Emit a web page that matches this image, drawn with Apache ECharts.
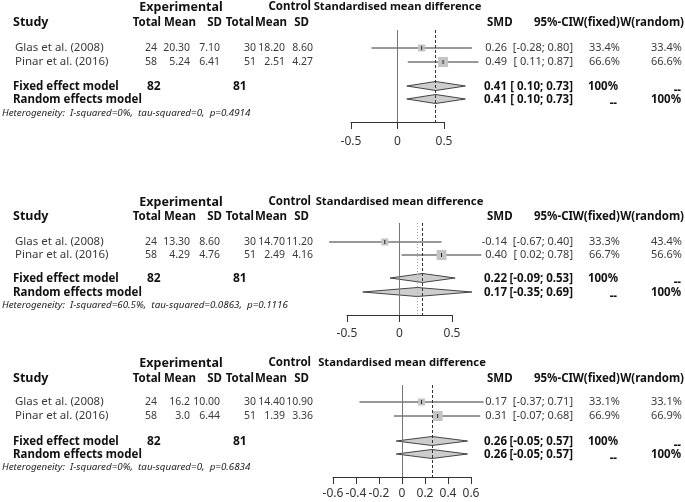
<!DOCTYPE html>
<html>
<head>
<meta charset="utf-8">
<script src="https://cdn.jsdelivr.net/npm/echarts@6/dist/echarts.min.js"></script>
<style>
  html, body { margin: 0; background: #fff; }
  #main { width: 685px; height: 502px; }
</style>
</head>
<body>
<div id="main"></div>
<script>
// studies (same in all three outcomes)
const studies = ['Glas et al. (2008)', 'Pinar et al. (2016)']
const expTotal = [24, 58]
const ctlTotal = [30, 51]

// outcome 1
const expMean1 = ['20.30', '5.24']
const expSD1 = ['7.10', '6.41']
const ctlMean1 = ['18.20', '2.51']
const ctlSD1 = ['8.60', '4.27']
const smd1 = [0.26, 0.49]
const lower1 = [-0.28, 0.11]
const upper1 = [0.80, 0.87]
const wFixed1 = [33.4, 66.6]
const wRandom1 = [33.4, 66.6]
const fixed1 = [0.41, 0.10, 0.73]
const random1 = [0.41, 0.10, 0.73]
const het1 = 'Heterogeneity:  I-squared=0%,  tau-squared=0,  p=0.4914'

// outcome 2
const expMean2 = ['13.30', '4.29']
const expSD2 = ['8.60', '4.76']
const ctlMean2 = ['14.70', '2.49']
const ctlSD2 = ['11.20', '4.16']
const smd2 = [-0.14, 0.40]
const lower2 = [-0.67, 0.02]
const upper2 = [0.40, 0.78]
const wFixed2 = [33.3, 66.7]
const wRandom2 = [43.4, 56.6]
const fixed2 = [0.22, -0.09, 0.53]
const random2 = [0.17, -0.35, 0.69]
const het2 = 'Heterogeneity:  I-squared=60.5%,  tau-squared=0.0863,  p=0.1116'

// outcome 3
const expMean3 = ['16.2', '3.0']
const expSD3 = ['10.00', '6.44']
const ctlMean3 = ['14.40', '1.39']
const ctlSD3 = ['10.90', '3.36']
const smd3 = [0.17, 0.31]
const lower3 = [-0.37, -0.07]
const upper3 = [0.71, 0.68]
const wFixed3 = [33.1, 66.9]
const wRandom3 = [33.1, 66.9]
const fixed3 = [0.26, -0.05, 0.57]
const random3 = [0.26, -0.05, 0.57]
const het3 = 'Heterogeneity:  I-squared=0%,  tau-squared=0,  p=0.6834'

// axis ranges (tick labels)
const axisMin = [-0.5, -0.5, -0.6]
const axisMax = [0.5, 0.5, 0.6]
const axisStep = [0.5, 0.5, 0.2]

const panels = [
  { expMean: expMean1, expSD: expSD1, ctlMean: ctlMean1, ctlSD: ctlSD1, smd: smd1, lower: lower1, upper: upper1,
    wFixed: wFixed1, wRandom: wRandom1, fixed: fixed1, random: random1, het: het1 },
  { expMean: expMean2, expSD: expSD2, ctlMean: ctlMean2, ctlSD: ctlSD2, smd: smd2, lower: lower2, upper: upper2,
    wFixed: wFixed2, wRandom: wRandom2, fixed: fixed2, random: random2, het: het2 },
  { expMean: expMean3, expSD: expSD3, ctlMean: ctlMean3, ctlSD: ctlSD3, smd: smd3, lower: lower3, upper: upper3,
    wFixed: wFixed3, wRandom: wRandom3, fixed: fixed3, random: random3, het: het3 }
]

// page layout (pixels)
const layout = [
  { top: 7, head: 22, rows: [48, 62], fixed: 87, random: 100, het: 113, lineTop: 30, axis: 122, left: 351, width: 93, margin: 14 },
  { top: 202, head: 216, rows: [242, 255], fixed: 279, random: 293, het: 305, lineTop: 223, axis: 315, left: 347, width: 105, margin: 13 },
  { top: 363, head: 378, rows: [402, 416], fixed: 442, random: 455, het: 467, lineTop: 385, axis: 477, left: 333, width: 138, margin: 11 }
]

const FONT = '"Noto Sans", sans-serif'
const fmt = v => v.toFixed(2)
const ci = (lo, hi) => '[' + (lo < 0 ? '' : ' ') + fmt(lo) + '; ' + fmt(hi) + ']'

function txt (x, y, text, opt) {
  opt = opt || {}
  return {
    type: 'text',
    silent: true,
    style: {
      x: x, y: y, text: text,
      textAlign: opt.align || 'left',
      textVerticalAlign: 'middle',
      font: (opt.style || 'normal') + ' ' + (opt.weight || 'normal') + ' ' + (opt.size || 11) + 'px ' + FONT,
      fill: opt.color || '#3a3a3a'
    }
  }
}
const bold = (size, align) => ({ weight: 'bold', size: size, color: '#111', align: align || 'left' })

const graphics = []
panels.forEach((p, i) => {
  const L = layout[i]
  graphics.push(txt(181, L.top, 'Experimental', bold(12.5, 'center')))
  graphics.push(txt(311, L.top, 'Control', bold(11.5, 'right')))
  graphics.push(txt(L.left + L.width / 2, L.top, 'Standardised mean difference', bold(11.2, 'center')))
  graphics.push(txt(13, L.head, 'Study', bold(12.5)))
  const heads = [['Total', 161], ['Mean', 196], ['SD', 222], ['Total', 254], ['Mean', 287], ['SD', 309]]
  heads.forEach(h => graphics.push(txt(h[1], L.head + 1, h[0], bold(11.5, 'right'))))
  graphics.push(txt(487, L.head + 1, 'SMD', bold(11.5)))
  graphics.push(txt(573, L.head + 1, '95%-CI', bold(11.5, 'right')))
  graphics.push(txt(620, L.head + 1, 'W(fixed)', bold(11.5, 'right')))
  graphics.push(txt(684, L.head + 1, 'W(random)', bold(11.5, 'right')))

  studies.forEach((s, k) => {
    const y = L.rows[k]
    const n = { align: 'right', size: 10.5 }
    const r = { align: 'right', size: 11 }
    graphics.push(txt(15, y, s, { size: 11.5 }))
    graphics.push(txt(157, y, String(expTotal[k]), n))
    graphics.push(txt(190, y, p.expMean[k], n))
    graphics.push(txt(220, y, p.expSD[k], n))
    graphics.push(txt(256, y, String(ctlTotal[k]), n))
    graphics.push(txt(285, y, p.ctlMean[k], n))
    graphics.push(txt(313, y, p.ctlSD[k], n))
    graphics.push(txt(507, y, fmt(p.smd[k]), r))
    graphics.push(txt(573, y, ci(p.lower[k], p.upper[k]), r))
    graphics.push(txt(620, y, p.wFixed[k].toFixed(1) + '%', r))
    graphics.push(txt(682, y, p.wRandom[k].toFixed(1) + '%', r))
  })

  graphics.push(txt(13, L.fixed, 'Fixed effect model', bold(11.5)))
  graphics.push(txt(13, L.random, 'Random effects model', bold(11.5)))
  graphics.push(txt(147, L.fixed, String(expTotal.reduce((a, b) => a + b, 0)), bold(12)))
  graphics.push(txt(233, L.fixed, String(ctlTotal.reduce((a, b) => a + b, 0)), bold(12)))
  graphics.push(txt(507, L.fixed, fmt(p.fixed[0]), bold(11.5, 'right')))
  graphics.push(txt(573, L.fixed, ci(p.fixed[1], p.fixed[2]), bold(11.5, 'right')))
  graphics.push(txt(618, L.fixed, '100%', bold(11.5, 'right')))
  graphics.push(txt(681, L.fixed + 4, '--', bold(11.5, 'right')))
  graphics.push(txt(507, L.random, fmt(p.random[0]), bold(11.5, 'right')))
  graphics.push(txt(573, L.random, ci(p.random[1], p.random[2]), bold(11.5, 'right')))
  graphics.push(txt(617, L.random + 4, '--', bold(11.5, 'right')))
  graphics.push(txt(681, L.random, '100%', bold(11.5, 'right')))
  graphics.push(txt(2, L.het, p.het, { size: 9.8, style: 'italic', color: '#222' }))
})

function renderStudy (params, api) {
  const y = api.value(3)
  const c = api.coord([api.value(0), y])
  const lo = api.coord([api.value(1), y])
  const hi = api.coord([api.value(2), y])
  const s = 12.2 * Math.sqrt(api.value(4) / 100)
  return {
    type: 'group',
    children: [
      { type: 'line', shape: { x1: lo[0], y1: c[1], x2: hi[0], y2: c[1] }, style: { stroke: '#333', lineWidth: 1 } },
      { type: 'rect', shape: { x: c[0] - s / 2, y: c[1] - s / 2, width: s, height: s }, style: { fill: '#c4c4c4' } },
      { type: 'line', shape: { x1: c[0], y1: c[1] - 2, x2: c[0], y2: c[1] + 2 }, style: { stroke: '#222', lineWidth: 1 } }
    ]
  }
}

function renderDiamond (params, api) {
  const y = api.value(3)
  const c = api.coord([api.value(0), y])
  const lo = api.coord([api.value(1), y])
  const hi = api.coord([api.value(2), y])
  return {
    type: 'polygon',
    shape: { points: [[lo[0], c[1]], [c[0], c[1] - 4.5], [hi[0], c[1]], [c[0], c[1] + 4.5]] },
    style: { fill: '#cdcdcd', stroke: '#444', lineWidth: 1 }
  }
}

const grid = [], xAxis = [], yAxis = [], series = []
panels.forEach((p, i) => {
  const L = layout[i]
  grid.push({ left: L.left, width: L.width, top: L.lineTop, height: L.axis - L.lineTop })
  xAxis.push({
    type: 'value', gridIndex: i, min: axisMin[i], max: axisMax[i], interval: axisStep[i],
    axisLine: { show: true, lineStyle: { color: '#333', width: 1 } },
    axisTick: { show: true, length: 7, lineStyle: { color: '#333' } },
    axisLabel: { color: '#333', fontSize: 12, fontFamily: FONT, margin: L.margin },
    splitLine: { show: false }
  })
  yAxis.push({ type: 'value', gridIndex: i, min: L.lineTop, max: L.axis, inverse: true, show: false })

  const lines = [
    { xAxis: 0, lineStyle: { color: '#777', type: 'solid', width: 1 } },
    { xAxis: p.fixed[0], lineStyle: { color: '#333', type: [3, 2], width: 1 } }
  ]
  if (p.random[0] !== p.fixed[0]) {
    lines.push({ xAxis: p.random[0], lineStyle: { color: '#aaa', type: [1, 2], width: 1 } })
  }
  series.push({
    type: 'custom', xAxisIndex: i, yAxisIndex: i, clip: false, silent: true,
    renderItem: renderDiamond,
    data: [
      [p.fixed[0], p.fixed[1], p.fixed[2], L.fixed - 1],
      [p.random[0], p.random[1], p.random[2], L.random - 1]
    ],
    markLine: { silent: true, symbol: ['none', 'none'], label: { show: false }, data: lines }
  })
  series.push({
    type: 'custom', xAxisIndex: i, yAxisIndex: i, clip: false, silent: true,
    renderItem: renderStudy,
    data: studies.map((s, k) => [p.smd[k], p.lower[k], p.upper[k], L.rows[k], p.wFixed[k]])
  })
})

const chart = echarts.init(document.getElementById('main'))
chart.setOption({
  animation: false,
  backgroundColor: '#fff',
  grid: grid,
  xAxis: xAxis,
  yAxis: yAxis,
  series: series,
  graphic: graphics
})
window.addEventListener('resize', () => chart.resize())
</script>
</body>
</html>
